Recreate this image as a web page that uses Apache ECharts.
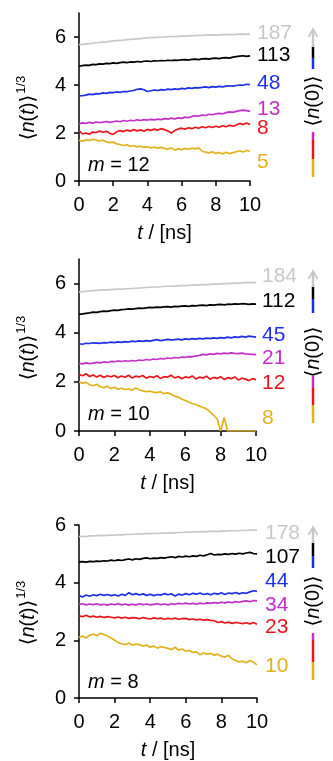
<!DOCTYPE html>
<html>
<head>
<meta charset="utf-8">
<script src="https://cdn.jsdelivr.net/npm/echarts@6/dist/echarts.min.js"></script>
<style>
  html, body { margin: 0; padding: 0; background: #fff; }
  #chart { width: 333px; height: 761px; }
</style>
</head>
<body>
<div id="chart"></div>
<script>
// time axis, ns
var t = [0,0.2,0.4,0.6,0.8,1,1.2,1.4,1.6,1.8,2,2.2,2.4,2.6,2.8,3,3.2,3.4,3.6,3.8,
  4,4.2,4.4,4.6,4.8,5,5.2,5.4,5.6,5.8,6,6.2,6.4,6.6,6.8,7,7.2,7.4,7.6,7.8,
  8,8.2,8.4,8.6,8.8,9,9.2,9.4,9.6,9.8,10];

var xTicks = [0, 2, 4, 6, 8, 10];
var yTicks = [0, 2, 4, 6];

var colors = ['#c8c8c8', '#000000', '#1f2fe8', '#c32fc8', '#e8161c', '#e0b21e'];

// m = 12
var m12Labels = ['187', '113', '48', '13', '8', '5'];
var m12_187 = [5.68,5.69,5.71,5.72,5.74,5.76,5.77,5.79,5.80,5.82,
  5.84,5.85,5.86,5.87,5.89,5.90,5.91,5.92,5.93,5.95,
  5.96,5.97,5.98,5.99,5.99,6.00,6.01,6.02,6.02,6.03,
  6.04,6.04,6.05,6.06,6.06,6.07,6.07,6.08,6.08,6.09,
  6.08,6.09,6.10,6.10,6.11,6.10,6.11,6.12,6.11,6.12,6.12];
var m12_113 = [4.78,4.81,4.83,4.82,4.86,4.85,4.88,4.87,4.90,4.89,
  4.92,4.90,4.93,4.95,4.93,4.96,4.95,4.98,4.96,4.99,
  5.00,4.98,5.01,5.00,5.02,5.01,5.03,5.02,5.04,5.03,
  5.05,5.06,5.04,5.07,5.08,5.06,5.09,5.10,5.08,5.11,
  5.12,5.10,5.13,5.14,5.12,5.16,5.18,5.20,5.22,5.19,5.21];
var m12_48 = [3.55,3.56,3.58,3.62,3.60,3.64,3.63,3.67,3.65,3.69,
  3.68,3.71,3.69,3.73,3.72,3.75,3.77,3.82,3.84,3.80,
  3.73,3.76,3.79,3.77,3.81,3.79,3.83,3.81,3.84,3.82,
  3.86,3.84,3.88,3.86,3.89,3.88,3.90,3.92,3.89,3.93,
  3.91,3.94,3.92,3.95,3.97,3.95,3.98,4.00,3.99,4.03,4.02];
var m12_13 = [2.38,2.42,2.40,2.44,2.41,2.46,2.43,2.45,2.48,2.44,
  2.47,2.50,2.47,2.52,2.49,2.53,2.51,2.55,2.52,2.56,
  2.54,2.57,2.55,2.58,2.56,2.60,2.58,2.62,2.59,2.63,
  2.61,2.66,2.64,2.69,2.72,2.70,2.75,2.73,2.78,2.76,
  2.80,2.82,2.80,2.85,2.88,2.86,2.90,2.93,2.95,2.93,2.90];
var m12_8 = [2.10,1.96,2.00,1.95,2.04,2.02,2.08,2.03,2.07,1.99,
  1.94,2.05,2.10,2.06,2.12,2.08,2.14,2.09,2.13,2.07,
  2.15,2.11,2.16,2.12,2.18,2.14,2.08,2.00,2.10,2.17,
  2.20,2.16,2.22,2.18,2.24,2.20,2.26,2.22,2.27,2.23,
  2.28,2.24,2.30,2.26,2.32,2.28,2.33,2.40,2.35,2.42,2.36];
var m12_5 = [1.70,1.66,1.72,1.69,1.74,1.71,1.67,1.70,1.63,1.60,
  1.62,1.55,1.52,1.48,1.51,1.45,1.47,1.42,1.45,1.40,
  1.43,1.38,1.41,1.37,1.40,1.36,1.32,1.38,1.29,1.34,
  1.30,1.36,1.32,1.37,1.34,1.38,1.24,1.20,1.17,1.22,
  1.15,1.19,1.13,1.20,1.14,1.18,1.22,1.26,1.21,1.27,1.24];

// m = 10
var m10Labels = ['184', '112', '45', '21', '12', '8'];
var m10_184 = [5.65,5.67,5.68,5.70,5.71,5.72,5.73,5.74,5.74,5.75,
  5.76,5.77,5.77,5.78,5.79,5.80,5.81,5.82,5.83,5.84,
  5.85,5.86,5.86,5.87,5.88,5.89,5.89,5.90,5.91,5.92,
  5.92,5.93,5.94,5.94,5.95,5.96,5.96,5.97,5.98,5.98,
  5.99,6.00,6.00,6.01,6.02,6.02,6.03,6.04,6.04,6.05,6.04];
var m10_112 = [4.75,4.77,4.79,4.81,4.84,4.83,4.86,4.88,4.87,4.90,
  4.92,4.91,4.94,4.95,4.97,4.96,4.98,5.00,4.99,5.01,
  5.03,5.02,5.04,5.03,5.05,5.06,5.04,5.07,5.06,5.08,
  5.09,5.07,5.10,5.09,5.11,5.12,5.10,5.13,5.12,5.14,
  5.15,5.13,5.16,5.15,5.17,5.16,5.18,5.17,5.15,5.17,5.16];
var m10_45 = [3.55,3.53,3.57,3.56,3.59,3.58,3.57,3.60,3.59,3.62,
  3.60,3.63,3.61,3.64,3.62,3.66,3.64,3.67,3.65,3.68,
  3.66,3.69,3.72,3.68,3.70,3.73,3.71,3.72,3.74,3.71,
  3.75,3.73,3.76,3.74,3.77,3.75,3.78,3.76,3.79,3.77,
  3.80,3.78,3.82,3.79,3.83,3.81,3.85,3.82,3.86,3.84,3.82];
var m10_21 = [2.75,2.73,2.77,2.74,2.76,2.79,2.77,2.81,2.79,2.83,
  2.82,2.85,2.83,2.86,2.84,2.87,2.85,2.89,2.87,2.91,
  2.89,2.93,2.91,2.95,2.93,2.97,2.95,2.99,2.97,3.01,
  3.00,3.03,3.02,3.06,3.08,3.12,3.10,3.14,3.12,3.16,
  3.14,3.17,3.15,3.18,3.16,3.15,3.17,3.14,3.13,3.12,3.11];
var m10_12 = [2.30,2.25,2.33,2.22,2.28,2.20,2.27,2.18,2.25,2.21,
  2.26,2.17,2.24,2.19,2.27,2.16,2.23,2.20,2.26,2.15,
  2.22,2.18,2.25,2.14,2.21,2.19,2.27,2.16,2.22,2.13,
  2.20,2.17,2.24,2.12,2.19,2.16,2.23,2.11,2.18,2.14,
  2.21,2.10,2.17,2.13,2.20,2.08,2.15,2.11,2.05,2.13,2.09];
var m10_8 = [2.00,1.95,1.98,1.88,1.84,1.90,1.80,1.76,1.82,1.73,
  1.78,1.70,1.74,1.69,1.72,1.66,1.75,1.68,1.63,1.60,
  1.62,1.58,1.56,1.60,1.52,1.55,1.50,1.42,1.38,1.30,
  1.24,1.18,1.12,1.08,1.02,0.96,0.90,0.78,0.65,0.50,
  0.00,0.55,0.00,0.00,0.00,0.00,0.00,0.00,0.00,0.00,0.00];

// m = 8
var m8Labels = ['178', '107', '44', '34', '23', '10'];
var m8_178 = [5.60,5.61,5.60,5.62,5.62,5.63,5.63,5.64,5.64,5.65,
  5.65,5.66,5.66,5.67,5.67,5.68,5.68,5.69,5.69,5.70,
  5.70,5.71,5.71,5.72,5.72,5.72,5.73,5.73,5.74,5.74,
  5.75,5.75,5.76,5.76,5.76,5.77,5.77,5.78,5.78,5.78,
  5.79,5.79,5.80,5.80,5.80,5.81,5.81,5.81,5.82,5.82,5.82];
var m8_107 = [4.72,4.73,4.71,4.74,4.73,4.75,4.74,4.76,4.75,4.78,
  4.76,4.79,4.77,4.80,4.82,4.79,4.83,4.81,4.84,4.86,
  4.83,4.85,4.84,4.87,4.85,4.88,4.90,4.87,4.91,4.89,
  4.92,4.90,4.93,4.91,4.95,4.93,4.97,5.01,4.96,4.98,
  4.97,5.00,4.98,5.01,4.99,5.02,5.00,5.03,5.05,5.01,5.00];
var m8_44 = [3.55,3.50,3.57,3.53,3.58,3.55,3.60,3.56,3.59,3.55,
  3.58,3.54,3.60,3.56,3.65,3.58,3.62,3.57,3.61,3.56,
  3.60,3.55,3.59,3.57,3.62,3.58,3.61,3.54,3.60,3.57,
  3.62,3.58,3.63,3.60,3.64,3.59,3.62,3.58,3.63,3.60,
  3.65,3.59,3.64,3.62,3.66,3.61,3.65,3.63,3.68,3.72,3.70];
var m8_34 = [3.25,3.27,3.23,3.26,3.24,3.27,3.23,3.25,3.22,3.26,
  3.24,3.27,3.23,3.26,3.22,3.25,3.23,3.27,3.24,3.26,
  3.23,3.25,3.27,3.24,3.26,3.23,3.27,3.25,3.28,3.26,
  3.29,3.26,3.28,3.25,3.29,3.27,3.30,3.28,3.31,3.29,
  3.32,3.30,3.33,3.31,3.34,3.32,3.35,3.37,3.34,3.38,3.37];
var m8_23 = [2.85,2.82,2.87,2.81,2.84,2.80,2.83,2.79,2.82,2.80,
  2.78,2.81,2.77,2.80,2.76,2.79,2.78,2.75,2.79,2.76,
  2.74,2.78,2.75,2.77,2.73,2.76,2.74,2.77,2.73,2.75,
  2.76,2.72,2.74,2.71,2.73,2.70,2.72,2.69,2.68,2.62,
  2.65,2.60,2.63,2.59,2.62,2.60,2.58,2.61,2.57,2.62,2.56];
var m8_10 = [2.10,2.15,2.08,2.18,2.22,2.16,2.24,2.20,2.15,2.08,
  2.00,1.92,1.88,1.85,1.90,1.84,1.87,1.85,1.80,1.84,
  1.76,1.80,1.73,1.78,1.75,1.72,1.68,1.76,1.66,1.70,
  1.62,1.65,1.58,1.60,1.50,1.56,1.52,1.55,1.48,1.52,
  1.45,1.42,1.48,1.36,1.30,1.25,1.28,1.22,1.30,1.24,1.15];

var panels = [
  { m: '12', labels: m12Labels, data: [m12_187, m12_113, m12_48, m12_13, m12_8, m12_5],
    offs: [-1, -1, -1, -2, 4, 11], dist: 7, ymax: 7,
    grid: { left: 79, top: 13, width: 171, height: 168 } },
  { m: '10', labels: m10Labels, data: [m10_184, m10_112, m10_45, m10_21, m10_12, m10_8],
    offs: [-6, -3, -2, 4, 4, -13], dist: 6, ymax: 7,
    grid: { left: 79, top: 259, width: 177, height: 172 } },
  { m: '8', labels: m8Labels, data: [m8_178, m8_107, m8_44, m8_34, m8_23, m8_10],
    offs: [3, 3, -10, 4, 3, 1], dist: 8, ymax: 6,
    grid: { left: 79, top: 525, width: 178, height: 174 } }
];

var FONT = '"Liberation Sans", Arial, "DejaVu Sans", sans-serif';

var chart = echarts.init(document.getElementById('chart'));

var grids = [], xAxes = [], yAxes = [], series = [], graphics = [];

panels.forEach(function (p, k) {
  grids.push(p.grid);
  xAxes.push({
    type: 'value', gridIndex: k, min: 0, max: 10, interval: 2,
    name: '{i|t} / [ns]', nameLocation: 'middle', nameGap: 42,
    nameTextStyle: { fontFamily: FONT, fontSize: 20, color: '#000',
      rich: { i: { fontFamily: FONT, fontSize: 20, fontStyle: 'italic', color: '#000' } } },
    axisLine: { lineStyle: { color: '#000', width: 1.5 } },
    axisTick: { inside: false, length: 5, lineStyle: { color: '#000', width: 1.5 }, customValues: xTicks },
    axisLabel: { fontFamily: FONT, fontSize: 20, color: '#000', margin: 14, customValues: xTicks },
    splitLine: { show: false }
  });
  yAxes.push({
    type: 'value', gridIndex: k, min: 0, max: p.ymax, interval: 2,
    axisLine: { show: true, lineStyle: { color: '#000', width: 1.5 } },
    axisTick: { show: true, inside: false, length: 5, lineStyle: { color: '#000', width: 1.5 }, customValues: yTicks },
    axisLabel: { fontFamily: FONT, fontSize: 20, color: '#000', margin: 13, customValues: yTicks },
    splitLine: { show: false }
  });
  p.data.forEach(function (arr, j) {
    series.push({
      type: 'line', xAxisIndex: k, yAxisIndex: k, name: p.labels[j],
      data: t.map(function (x, i) { return [x, arr[i]]; }),
      showSymbol: false, animation: false, silent: true,
      lineStyle: { color: colors[j], width: 1.7 },
      endLabel: { show: true, formatter: p.labels[j], color: colors[j],
        fontFamily: FONT, fontSize: 21, distance: p.dist, offset: [0, p.offs[j]] }
    });
  });
});

// y-axis names, "m =" captions and the <n(0)> colour bars
var yNameCenters = [108, 348, 613];
var mCenters = [165, 414, 682];
var bars = [
  { tip: 29, g: 47, b: 58, bl: 69, txt: 101, mg: 132, r: 140, yl: 159, end: 177 },
  { tip: 271, g: 287, b: 299, bl: 313, txt: 352, mg: 376, r: 388, yl: 405, end: 423 },
  { tip: 527, g: 543, b: 556, bl: 568, txt: 601, mg: 633, r: 640, yl: 662, end: 680 }
];

var richBase = {
  i: { fontFamily: FONT, fontSize: 20, fontStyle: 'italic', fill: '#000' },
  s: { fontFamily: FONT, fontSize: 13, fill: '#000', padding: [0, 0, 13, 1] }
};

panels.forEach(function (p, k) {
  graphics.push({
    type: 'text', x: 28, y: yNameCenters[k], rotation: Math.PI / 2,
    style: { text: '⟨{i|n}({i|t})⟩{s|1/3}', fontFamily: FONT, fontSize: 20, fill: '#000',
      align: 'center', verticalAlign: 'middle', rich: richBase }
  });
  graphics.push({
    type: 'text', x: 88, y: mCenters[k],
    style: { text: '{i|m} = ' + p.m, fontFamily: FONT, fontSize: 20, fill: '#000',
      align: 'left', verticalAlign: 'middle', rich: richBase }
  });
  var b = bars[k], X = 313;
  var segs = [
    [b.tip + 2, b.g, colors[0]], [b.g, b.b, colors[1]], [b.b, b.bl, colors[2]],
    [b.mg, b.r, colors[3]], [b.r, b.yl, colors[4]], [b.yl, b.end, colors[5]]
  ];
  segs.forEach(function (s) {
    graphics.push({ type: 'line', shape: { x1: X, y1: s[0], x2: X, y2: s[1] },
      style: { stroke: s[2], lineWidth: 2.5 } });
  });
  graphics.push({ type: 'polyline', shape: { points: [[X - 4.5, b.tip + 8], [X, b.tip], [X + 4.5, b.tip + 8]] },
    style: { stroke: colors[0], lineWidth: 1.8, fill: null } });
  graphics.push({
    type: 'text', x: X, y: b.txt, rotation: Math.PI / 2,
    style: { text: '⟨{i|n}(0)⟩', fontFamily: FONT, fontSize: 20, fill: '#000',
      align: 'center', verticalAlign: 'middle', rich: richBase }
  });
});

var option = {
  animation: false,
  grid: grids,
  xAxis: xAxes,
  yAxis: yAxes,
  series: series,
  graphic: graphics
};

chart.setOption(option);
</script>
</body>
</html>
